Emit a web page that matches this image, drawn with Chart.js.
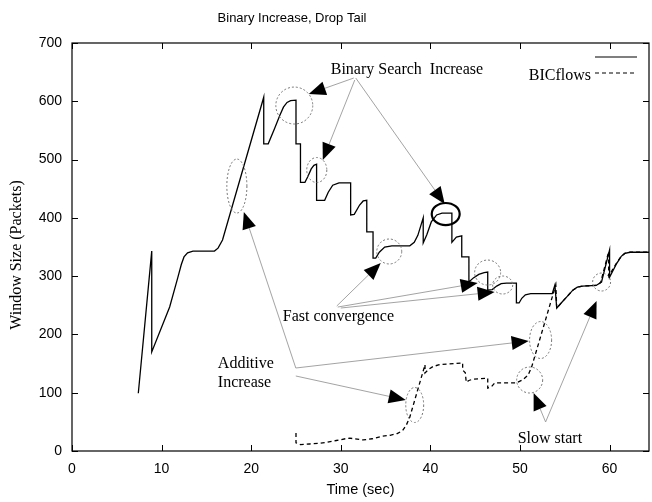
<!DOCTYPE html>
<html>
<head>
<meta charset="utf-8">
<script src="https://cdn.jsdelivr.net/npm/chart.js@4/dist/chart.umd.min.js"></script>
<style>
  html, body { margin: 0; padding: 0; background: #fff; }
  #c { display: block; }
</style>
</head>
<body>
<canvas id="c" width="652" height="502"></canvas>
<script>
// Congestion window of the two BIC flows over time (drop-tail queue)
const flowATime = [
  7.4, 8.9, 8.9, 10.9, 11.8, 12.2, 12.5, 12.9, 13.5, 15.9, 16.3, 16.8, 21.4,
  21.4, 21.9, 22.6, 23.2, 23.6, 24.0, 24.4, 25.0,
  25.0, 25.5, 25.5, 26.0, 26.3, 26.7, 27.0, 27.3,
  27.3, 28.2, 28.6, 29.1, 29.8, 31.1,
  31.1, 31.5, 32.1, 32.5, 32.9,
  32.9, 33.6, 33.6, 33.9, 34.3, 34.9, 35.7, 37.7, 38.2, 38.6, 39.2,
  39.2, 39.6, 40.1, 40.7, 41.3, 42.4,
  42.4, 42.9, 43.5,
  43.5, 44.3, 44.3, 44.8, 45.4, 46.0, 46.4,
  46.4, 46.9, 47.4, 47.9, 48.5, 49.6,
  49.6, 49.9, 50.2, 50.6, 51.2, 53.6, 53.9,
  54.1, 54.6, 55.2, 55.9, 56.4, 57.0, 58.5, 59.1, 60.0,
  60.0, 60.8, 61.3, 61.7, 62.3, 64.4
];
const flowAWindow = [
  99, 343, 170, 247, 297, 320, 333, 340, 343, 343, 348, 362, 607,
  527, 527, 553, 576, 590, 598, 601, 602,
  527, 527, 461, 461, 470, 484, 490, 492,
  430, 430, 444, 456, 460, 460,
  405, 406, 422, 429, 430,
  376, 376, 331, 331, 341, 350, 352, 352, 358, 370, 400,
  357, 371, 393, 405, 408, 408,
  358, 367, 369,
  333, 333, 290, 297, 303, 306, 307,
  276, 277, 283, 287, 288, 288,
  254, 254, 262, 268, 270, 270, 285,
  245, 254, 264, 276, 281, 283, 284, 290, 345,
  298, 322, 334, 339, 341, 341
];

const flowBTime = [
  25.0, 25.0, 25.5, 26.5, 27.5, 28.5, 29.5, 30.5, 31.0, 31.5, 32.5, 33.5, 34.5,
  35.5, 36.3, 36.9, 37.3, 37.7, 39.4,
  39.4, 39.8, 40.3, 41.0, 41.8, 43.6,
  43.6, 43.9, 44.0, 44.3, 44.7, 46.4,
  46.4, 46.8, 47.2, 49.6, 50.3, 50.9, 51.3, 54.0,
  54.1, 54.6, 55.2, 55.9, 56.4, 57.0, 58.5, 59.0, 59.9,
  59.9, 60.8, 61.3, 61.7, 62.3, 64.4
];
const flowBWindow = [
  31, 14, 11, 12, 13, 15, 18, 21, 22, 21, 19, 21, 25,
  27, 30, 35, 44, 58, 148,
  134, 140, 145, 148, 149, 151,
  139, 134, 118, 121, 123, 125,
  108, 110, 117, 117, 122, 130, 144, 285,
  245, 254, 264, 276, 281, 283, 284, 289, 342,
  300, 323, 334, 339, 341, 341
];

const seriesNames = ['', 'BICflows'];
const xTickValues = [0, 10, 20, 30, 40, 50, 60];
const yTickValues = [0, 100, 200, 300, 400, 500, 600, 700];

// Callout shapes, in axis units: ellipses [cx, cy, rx, ry, bold]
const calloutEllipses = [
  [18.40, 454.6, 1.12, 46.3, false],
  [24.81, 592.7, 2.06, 31.7, false],
  [27.32, 482.1, 1.12, 21.4, false],
  [35.41, 342.3, 1.39, 21.4, false],
  [41.71, 406.6, 1.56, 18.9, true],
  [46.39, 306.2, 1.45, 21.4, false],
  [48.07, 284.8, 1.12, 15.4, false],
  [59.11, 289.9, 1.00, 15.4, false],
  [52.30, 190.4, 1.23, 31.7, false],
  [51.08, 121.8, 1.45, 22.3, false],
  [38.25, 78.9, 1.00, 30.0, false]
];
// Arrows: [fromX, fromY, tipX, tipY]
const calloutArrows = [
  [31.45, 639.9, 26.43, 612.5],
  [31.56, 636.5, 27.99, 499.2],
  [31.67, 639.9, 41.60, 423.7],
  [29.55, 248.8, 34.46, 322.5],
  [29.66, 247.0, 45.28, 288.2],
  [30.00, 245.3, 47.17, 272.8],
  [24.98, 142.4, 19.18, 410.0],
  [24.98, 142.4, 50.97, 188.7],
  [24.98, 128.7, 37.25, 87.5],
  [52.86, 49.8, 51.52, 99.5],
  [52.86, 49.8, 58.55, 257.3]
];
// Callout texts: [text, x, y] (left edge, vertical middle)
const calloutTexts = [
  ['Binary Search  Increase', 28.88, 653.6],
  ['Fast convergence', 23.53, 229.9],
  ['Additive', 16.28, 149.3],
  ['Increase', 16.28, 116.7],
  ['Slow start', 49.74, 20.6]
];

const toPoints = (xs, ys) => xs.map((x, i) => ({ x: x, y: ys[i] }));

const SANS = '"Liberation Sans", Arial, Helvetica, sans-serif';
const SERIF = '"Liberation Serif", "Times New Roman", serif';

const framePlugin = {
  id: 'frameAndCallouts',
  beforeDraw(chart) {
    const ctx = chart.ctx;
    ctx.save();
    ctx.fillStyle = '#fff';
    ctx.fillRect(0, 0, chart.width, chart.height);
    ctx.restore();
  },
  afterDatasetsDraw(chart) {
    const ctx = chart.ctx;
    const xs = chart.scales.x, ys = chart.scales.y;
    const a = chart.chartArea;
    const px = v => xs.getPixelForValue(v);
    const py = v => ys.getPixelForValue(v);
    ctx.save();

    // plot frame and inward ticks on all four sides
    ctx.strokeStyle = '#000';
    ctx.lineWidth = 1.2;
    ctx.strokeRect(a.left, a.top, a.right - a.left, a.bottom - a.top);
    ctx.lineWidth = 1;
    ctx.beginPath();
    xTickValues.forEach(v => {
      const x = Math.round(px(v)) + 0.5;
      ctx.moveTo(x, a.bottom); ctx.lineTo(x, a.bottom - 6);
      ctx.moveTo(x, a.top); ctx.lineTo(x, a.top + 6);
    });
    yTickValues.forEach(v => {
      const y = Math.round(py(v)) + 0.5;
      ctx.moveTo(a.left, y); ctx.lineTo(a.left + 6, y);
      ctx.moveTo(a.right, y); ctx.lineTo(a.right - 6, y);
    });
    ctx.stroke();

    // callout ellipses
    calloutEllipses.forEach(([cx, cy, rx, ry, bold]) => {
      const X = px(cx), Y = py(cy);
      const RX = Math.abs(px(cx + rx) - X), RY = Math.abs(py(cy + ry) - Y);
      ctx.beginPath();
      ctx.ellipse(X, Y, RX, RY, 0, 0, Math.PI * 2);
      if (bold) {
        ctx.setLineDash([]);
        ctx.strokeStyle = '#000';
        ctx.lineWidth = 2.2;
      } else {
        ctx.setLineDash([2, 2]);
        ctx.strokeStyle = '#777';
        ctx.lineWidth = 1;
      }
      ctx.stroke();
    });
    ctx.setLineDash([]);

    // callout arrows: thin grey shaft, solid black head
    calloutArrows.forEach(([fx, fy, tx, ty]) => {
      const X1 = px(fx), Y1 = py(fy), X2 = px(tx), Y2 = py(ty);
      const ang = Math.atan2(Y2 - Y1, X2 - X1);
      const L = 17, W = 7;
      const bx = X2 - L * Math.cos(ang), by = Y2 - L * Math.sin(ang);
      ctx.strokeStyle = '#999';
      ctx.lineWidth = 0.9;
      ctx.beginPath();
      ctx.moveTo(X1, Y1); ctx.lineTo(bx, by);
      ctx.stroke();
      ctx.fillStyle = '#000';
      ctx.beginPath();
      ctx.moveTo(X2, Y2);
      ctx.lineTo(bx + W * Math.sin(ang), by - W * Math.cos(ang));
      ctx.lineTo(bx - W * Math.sin(ang), by + W * Math.cos(ang));
      ctx.closePath();
      ctx.fill();
    });

    // callout texts
    ctx.fillStyle = '#000';
    ctx.font = '16px ' + SERIF;
    ctx.textAlign = 'left';
    ctx.textBaseline = 'middle';
    calloutTexts.forEach(([t, x, y]) => ctx.fillText(t, px(x), py(y)));

    // key in the upper right corner
    const ds = chart.data.datasets;
    const kx1 = a.right - 54, kx2 = a.right - 12;
    ctx.lineWidth = 1.4;
    ctx.strokeStyle = '#555';
    ctx.setLineDash([]);
    ctx.beginPath(); ctx.moveTo(kx1, a.top + 14); ctx.lineTo(kx2, a.top + 14); ctx.stroke();
    ctx.lineWidth = 1.2;
    ctx.strokeStyle = '#000';
    ctx.setLineDash(ds[1].borderDash);
    ctx.beginPath(); ctx.moveTo(kx1, a.top + 30); ctx.lineTo(kx2, a.top + 30); ctx.stroke();
    ctx.setLineDash([]);
    ctx.textAlign = 'right';
    ctx.font = '16px ' + SERIF;
    ctx.fillText(ds[0].label, kx1 - 4, a.top + 16);
    ctx.fillText(ds[1].label, kx1 - 4, a.top + 33);

    // titles
    ctx.textAlign = 'center';
    ctx.font = '13px ' + SANS;
    ctx.fillText('Binary Increase, Drop Tail', 292, 18);
    ctx.font = '14.5px ' + SANS;
    ctx.fillText('Time (sec)', (a.left + a.right) / 2, 490);
    ctx.translate(17, 255);
    ctx.rotate(-Math.PI / 2);
    ctx.font = '16px ' + SERIF;
    ctx.fillText('Window Size (Packets)', 0, 0);
    ctx.restore();
  }
};

new Chart(document.getElementById('c'), {
  type: 'line',
  data: {
    datasets: [
      {
        label: seriesNames[0],
        data: toPoints(flowATime, flowAWindow),
        borderColor: '#000',
        borderWidth: 1.3,
        pointRadius: 0,
        tension: 0,
        fill: false
      },
      {
        label: seriesNames[1],
        data: toPoints(flowBTime, flowBWindow),
        borderColor: '#000',
        borderWidth: 1.3,
        borderDash: [4, 3],
        pointRadius: 0,
        tension: 0,
        fill: false
      }
    ]
  },
  options: {
    responsive: false,
    animation: false,
    devicePixelRatio: 1,
    parsing: true,
    layout: { padding: { left: 0, top: 43, right: 3, bottom: 0 } },
    plugins: {
      legend: { display: false },
      title: { display: false },
      tooltip: { enabled: false }
    },
    scales: {
      x: {
        type: 'linear',
        min: 0,
        max: 64.4,
        grid: { display: false, drawTicks: false },
        border: { display: false },
        afterBuildTicks: s => { s.ticks = xTickValues.map(v => ({ value: v })); },
        afterFit: s => { s.height = 51; },
        ticks: { color: '#000', padding: 10, maxRotation: 0, font: { family: SANS, size: 14 } }
      },
      y: {
        type: 'linear',
        min: 0,
        max: 700,
        grid: { display: false, drawTicks: false },
        border: { display: false },
        afterBuildTicks: s => { s.ticks = yTickValues.map(v => ({ value: v })); },
        afterFit: s => { s.width = 72; },
        ticks: { color: '#000', padding: 10, font: { family: SANS, size: 14 } }
      }
    }
  },
  plugins: [framePlugin]
});
</script>
</body>
</html>
